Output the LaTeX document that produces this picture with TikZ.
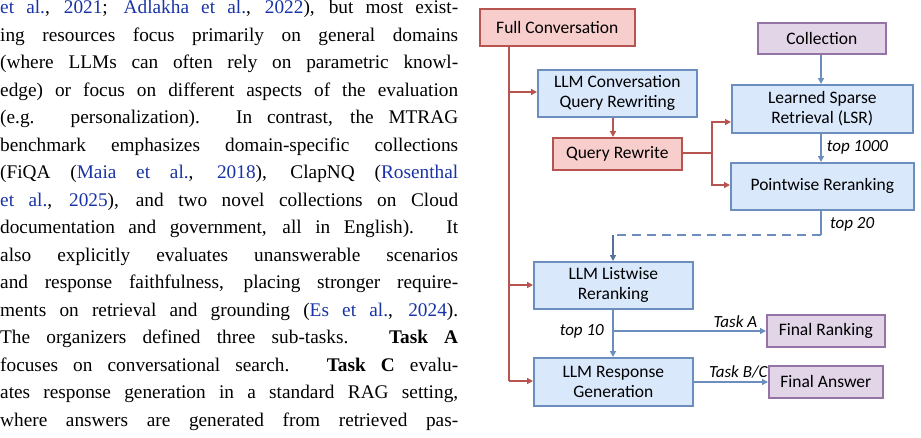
\documentclass[tikz,border=0pt]{standalone}
\usepackage{fontspec}
\setmainfont{Liberation Serif}
\newfontfamily\boxfont{Carlito}
\usetikzlibrary{arrows.meta}
\definecolor{cite}{rgb}{0.1,0.2,0.65}
\definecolor{rfill}{HTML}{F8CECC}\definecolor{rdraw}{HTML}{B85450}
\definecolor{bfill}{HTML}{DAE8FC}\definecolor{bdraw}{HTML}{6C8EBF}
\definecolor{pfill}{HTML}{E1D5E7}\definecolor{pdraw}{HTML}{9673A6}
\newcommand{\cit}[1]{\textcolor{cite}{#1}}
\tikzset{
 box/.style={draw, line width=1.6pt, inner sep=0pt, font=\boxfont\fontsize{17.5}{20}\selectfont, align=center, anchor=north west},
 rbox/.style={box, fill=rfill, draw=rdraw},
 bbox/.style={box, fill=bfill, draw=bdraw},
 pbox/.style={box, fill=pfill, draw=pdraw},
 rline/.style={draw=rdraw, line width=1.6pt, -{Triangle[length=6pt,width=6pt]}},
 bline/.style={draw=bdraw, line width=1.6pt, -{Triangle[length=6pt,width=6pt]}},
 lab/.style={font=\boxfont\itshape\fontsize{17}{19}\selectfont, inner sep=0pt}
}
\begin{document}
\begin{tikzpicture}[x=1pt,y=-1pt]
\useasboundingbox (0,0) rectangle (921,437);
\node[anchor=north west, inner sep=0pt, text width=458pt, align=justify,
 font=\fontsize{19.3}{27.5}\selectfont] (para) at (0,0) {%
\cit{et al.}, \cit{2021}; \cit{Adlakha et al.}, \cit{2022}), but most exist-\linebreak
ing resources focus primarily on general domains\linebreak
(where LLMs can often rely on parametric knowl-\linebreak
edge) or focus on different aspects of the evaluation\linebreak
(e.g. personalization). In contrast, the MTRAG\linebreak
benchmark emphasizes domain-specific collections\linebreak
(FiQA (\cit{Maia et al.}, \cit{2018}), ClapNQ (\cit{Rosenthal}\linebreak
\cit{et al.}, \cit{2025}), and two novel collections on Cloud\linebreak
documentation and government, all in English). It\linebreak
also explicitly evaluates unanswerable scenarios\linebreak
and response faithfulness, placing stronger require-\linebreak
ments on retrieval and grounding (\cit{Es et al.}, \cit{2024}).\linebreak
The organizers defined three sub-tasks. \textbf{Task A}\linebreak
focuses on conversational search. \textbf{Task C} evalu-\linebreak
ates response generation in a standard RAG setting,\linebreak
where answers are generated from retrieved pas-\linebreak};

\node[rbox, minimum width=155pt, minimum height=37pt] (full) at (479,8) {Full Conversation};
\node[pbox, minimum width=128pt, minimum height=31pt] (coll) at (757,22) {Collection};
\node[bbox, minimum width=159pt, minimum height=47pt] (qrw) at (537,69) {LLM Conversation\\Query Rewriting};
\node[bbox, minimum width=181pt, minimum height=48pt] (lsr) at (731,84) {Learned Sparse\\Retrieval (LSR)};
\node[rbox, minimum width=129pt, minimum height=32pt] (qr) at (552,137) {Query Rewrite};
\node[bbox, minimum width=183pt, minimum height=47pt] (pw) at (730,162) {Pointwise Reranking};
\node[bbox, minimum width=159pt, minimum height=47pt] (lw) at (533,261) {LLM Listwise\\Reranking};
\node[bbox, minimum width=159pt, minimum height=48pt] (gen) at (533,357) {LLM Response\\Generation};
\node[pbox, minimum width=118pt, minimum height=32pt] (fr) at (766,314) {Final Ranking};
\node[pbox, minimum width=114pt, minimum height=32pt] (fa) at (768,365) {Final Answer};

\coordinate (v0) at (509,45);
\coordinate (vend) at (509,381);
\draw[draw=rdraw, line width=1.6pt] (v0) -- (vend);
\draw[rline] (509,92) -- (qrw.west |- 0,92);
\draw[rline] (509,285) -- (lw.west |- 0,285);
\draw[rline] (vend) -- (gen.west |- vend);
\draw[rline] (qrw.south -| 613,0) -- (qr.north -| 613,0);
\coordinate (br) at (712,153);
\draw[draw=rdraw, line width=1.6pt] (qr.east |- br) -- (br);
\draw[rline] (br) |- (lsr.west |- 0,122);
\draw[rline] (br) |- (pw.west |- 0,185);

\draw[bline] (coll.south -| 821,0) -- (lsr.north -| 821,0);
\draw[bline] (lsr.south -| 821,0) -- node[lab, right=5pt] {top 1000} (pw.north -| 821,0);
\coordinate (d1) at (821,235);
\coordinate (d2) at (613,235);
\draw[draw=bdraw, line width=1.6pt] (pw.south -| d1) -- (d1);
\node[lab, anchor=west] (t20) at (830,224) {top 20};
\draw[draw=bdraw, line width=1.6pt, dash pattern=on 9pt off 6pt] (d1) -- (d2);
\draw[draw=bdraw!80!black, line width=1.6pt, -{Triangle[length=6pt,width=6pt]}] (d2) -- (lw.north -| d2);
\coordinate (b10) at (613,331);
\draw[bline] (lw.south -| b10) -- (gen.north -| b10);
\node[lab, anchor=east] (t10) at (604,331) {top 10};
\draw[bline] (b10) -- node[lab, above=3pt, pos=0.8] {Task A} (fr.west |- b10);
\draw[bline] (gen.east |- 0,382) -- node[lab, above=3pt, pos=0.6] {Task B/C} (fa.west |- 0,382);
\end{tikzpicture}
\end{document}
